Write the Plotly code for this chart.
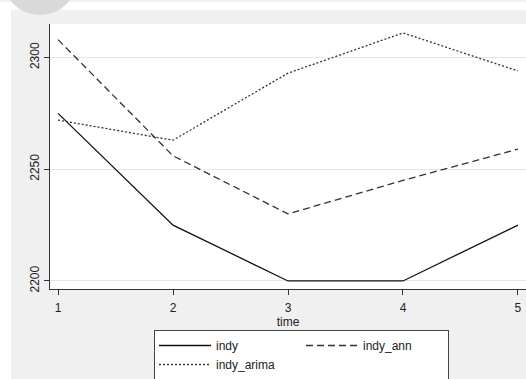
import plotly.graph_objects as go

time = [1, 2, 3, 4, 5]
indy = [2275, 2225, 2200, 2200, 2225]
indy_ann = [2308, 2256, 2230, 2245, 2259]
indy_arima = [2272, 2263, 2293, 2311, 2294]
yticks = [2200, 2250, 2300]

W, H = 526, 379
L, R, T, B = 50, 0, 24, 90
PW, PH = W - L - R, H - T - B

def px(x):
    return (x - L) / PW

def py(y):
    return (H - B - y) / PH

fig = go.Figure()
fig.add_trace(go.Scatter(x=time, y=indy, mode="lines", name="indy", legendgroup="a",
                         line=dict(color="#111111", width=1.3, dash="solid")))
fig.add_trace(go.Scatter(x=time, y=indy_ann, mode="lines", name="indy_ann", legendgroup="b",
                         line=dict(color="#333333", width=1.3, dash="7px,4px")))
fig.add_trace(go.Scatter(x=time, y=indy_arima, mode="lines", name="indy_arima", legendgroup="a",
                         line=dict(color="#333333", width=1.3, dash="2px,2px")))

shapes = [
    dict(type="rect", xref="paper", yref="paper", x0=px(0), x1=px(W), y0=py(10), y1=py(2),
         fillcolor="white", line=dict(width=0), layer="below"),
    dict(type="rect", xref="paper", yref="paper", x0=px(0), x1=px(11), y0=py(H), y1=py(2),
         fillcolor="white", line=dict(width=0), layer="below"),
    dict(type="circle", xref="paper", yref="paper", x0=px(2.5), x1=px(77.5), y0=py(15), y1=py(-60),
         fillcolor="#d9d9d9", line=dict(width=0), layer="below"),
]

fig.update_layout(
    width=W, height=H,
    margin=dict(l=L, r=R, t=T, b=B, pad=0, autoexpand=False),
    paper_bgcolor="#f0f0f0",
    plot_bgcolor="white",
    font=dict(family="Liberation Sans, Arial, sans-serif", size=12, color="#222222"),
    shapes=shapes,
    showlegend=True,
    legend=dict(
        orientation="h", traceorder="grouped",
        x=px(154), y=py(330), xanchor="left", yanchor="top",
        bgcolor="white", bordercolor="#444444", borderwidth=1,
        entrywidth=80, entrywidthmode="pixels",
        font=dict(size=12, color="#222222"),
        itemwidth=52,
        tracegroupgap=0,
    ),
    xaxis=dict(
        range=[0.93, 5.07], tickmode="array", tickvals=time, ticktext=[str(t) for t in time],
        showgrid=False, zeroline=False,
        showline=True, linecolor="#333333", linewidth=1,
        ticks="outside", ticklen=5, tickcolor="#333333",
        ticklabelstandoff=3,
        title=dict(text="time", standoff=0, font=dict(size=12)),
    ),
    yaxis=dict(
        range=[2196.4, 2315], tickmode="array", tickvals=yticks, ticktext=[str(v) for v in yticks],
        showgrid=True, gridcolor="#e6e6e6", gridwidth=1, zeroline=False,
        showline=True, linecolor="#333333", linewidth=1,
        ticks="outside", ticklen=5, tickcolor="#333333",
        tickangle=-90,
    ),
)

fig.write_html("out.html", config={"displayModeBar": False},
               post_script="document.body.style.margin='0';")
